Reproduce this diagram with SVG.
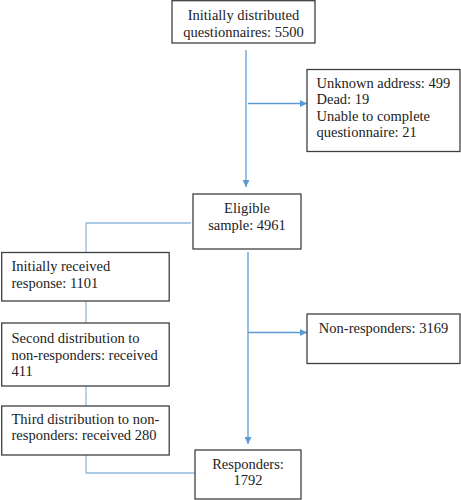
<svg xmlns="http://www.w3.org/2000/svg" width="461" height="500" viewBox="0 0 461 500">
<defs>
<style>
.box{fill:#fff;stroke:#404040;stroke-width:1.3}
.t{font-size:14.5px;fill:#222}
.c{text-anchor:middle}
.ln{fill:none;stroke:#5b9bd5;stroke-width:1.3}
.ln2{fill:none;stroke:#93b9e0;stroke-width:1.3}
</style>
<marker id="ah" viewBox="0 0 10 10" refX="10" refY="5" markerWidth="7" markerHeight="7" markerUnits="userSpaceOnUse" orient="auto"><path d="M0,0 L10,5 L0,10 z" fill="#5b9bd5"/></marker>
</defs>
<rect width="461" height="500" fill="#fff"/>
<g id="connectors">
<path class="ln" d="M246,50 V187" marker-end="url(#ah)"/>
<path class="ln" d="M248,103.5 H307" marker-end="url(#ah)"/>
<path class="ln2" d="M191,223 H86 V252"/>
<path class="ln" d="M248,252 V444" marker-end="url(#ah)"/>
<path class="ln" d="M248,332.5 H307" marker-end="url(#ah)"/>
<path class="ln2" d="M86,301 V323"/>
<path class="ln2" d="M86,386 V406"/>
<path class="ln2" d="M86,455 V473 H195"/>
</g>
<g font-family="'Liberation Serif', 'DejaVu Serif', serif">
<g id="n1">
<rect class="box" x="172" y="0.7" width="143" height="42.3"/>
<text class="t c" x="243.5" y="20">Initially distributed</text>
<text class="t c" x="243.5" y="36.5">questionnaires: 5500</text>
</g>
<g id="n2">
<rect class="box" x="307" y="69.5" width="153" height="82"/>
<text class="t" x="316.5" y="87.5">Unknown address: 499</text>
<text class="t" x="316.5" y="104">Dead: 19</text>
<text class="t" x="316.5" y="120.5">Unable to complete</text>
<text class="t" x="316.5" y="137">questionnaire: 21</text>
</g>
<g id="n3">
<rect class="box" x="193" y="194" width="108" height="55"/>
<text class="t c" x="247" y="213">Eligible</text>
<text class="t c" x="247" y="229.5">sample: 4961</text>
</g>
<g id="n4">
<rect class="box" x="1.7" y="252.5" width="167.5" height="48.5"/>
<text class="t" x="11.5" y="271">Initially received</text>
<text class="t" x="11.5" y="287.5">response: 1101</text>
</g>
<g id="n5">
<rect class="box" x="307" y="314" width="153" height="49.5"/>
<text class="t c" x="383.5" y="333">Non-responders: 3169</text>
</g>
<g id="n6">
<rect class="box" x="1.7" y="323" width="167.5" height="63"/>
<text class="t" x="11.5" y="343">Second distribution to</text>
<text class="t" x="11.5" y="359.5">non-responders: received</text>
<text class="t" x="11.5" y="376">411</text>
</g>
<g id="n7">
<rect class="box" x="1.7" y="406" width="167.5" height="49"/>
<text class="t" x="11.5" y="423.5">Third distribution to non-</text>
<text class="t" x="11.5" y="440">responders: received 280</text>
</g>
<g id="n8">
<rect class="box" x="195" y="450" width="106" height="49"/>
<text class="t c" x="248" y="468.5">Responders:</text>
<text class="t c" x="248" y="485">1792</text>
</g>
</g>
</svg>
